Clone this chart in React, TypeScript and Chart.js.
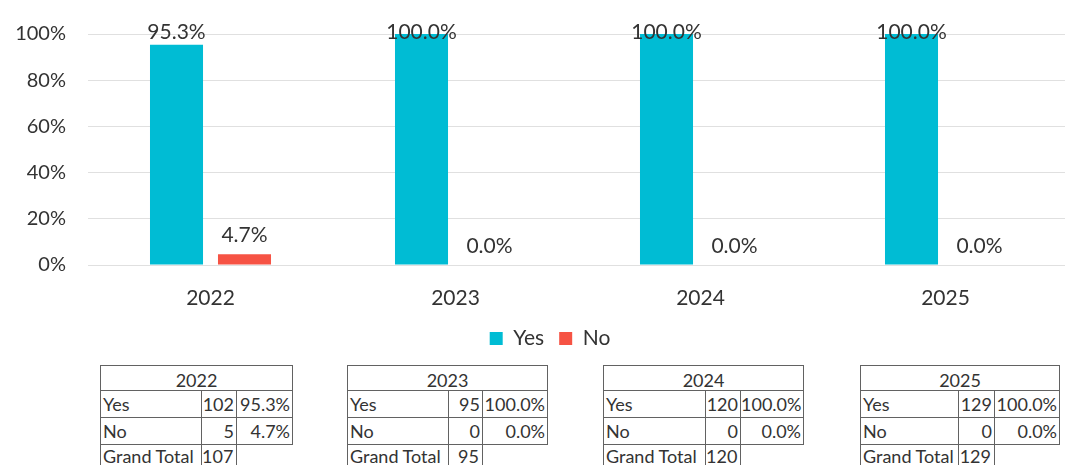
import React, { useEffect, useRef } from 'react';
import { Chart, registerables } from 'chart.js';

Chart.register(...registerables);

// ---- data ----
const categories = ['2022', '2023', '2024', '2025'];
const seriesNames = ['Yes', 'No'];
const yesPercent = [95.3, 100.0, 100.0, 100.0];
const noPercent = [4.7, 0.0, 0.0, 0.0];
const yTicks = [0, 20, 40, 60, 80, 100];
const yesCounts = [102, 95, 120, 129];
const noCounts = [5, 0, 0, 0];
const grandTotals = [107, 95, 120, 129];
const totalLabel = 'Grand Total';

// ---- styles / layout ----
const YES_COLOR = '#00BCD4';
const NO_COLOR = '#F65344';
const TEXT = '#333333';
const FONT = 'Lato, "Open Sans", sans-serif';
const tableLefts = [100, 347, 603, 860];
const tableCols = [
  [101, 35, 56],
  [101, 34, 65],
  [102, 35, 63],
  [98, 36, 65],
];

const labelPlugin = {
  id: 'barValueLabels',
  afterDatasetsDraw(chart: any) {
    const ctx = chart.ctx;
    const top = chart.chartArea.top;
    ctx.save();
    ctx.font = `21px ${FONT}`;
    ctx.fillStyle = TEXT;
    ctx.textAlign = 'center';
    ctx.textBaseline = 'alphabetic';
    chart.data.datasets.forEach((ds: any, di: number) => {
      const meta = chart.getDatasetMeta(di);
      meta.data.forEach((bar: any, i: number) => {
        const v = ds.data[i] as number;
        const y = Math.max(bar.y - 12, top + 5);
        ctx.fillText(v.toFixed(1) + '%', bar.x, y);
      });
    });
    ctx.restore();
  },
};

function StatTable(props: { idx: number }) {
  const i = props.idx;
  const w = tableCols[i];
  const border = '1px solid #626262';
  const cell: React.CSSProperties = { border, padding: '0 2px', whiteSpace: 'nowrap', overflow: 'hidden' };
  const num: React.CSSProperties = { ...cell, textAlign: 'right', padding: '0 2px 0 0' };
  const rows = [
    [seriesNames[0], String(yesCounts[i]), yesPercent[i].toFixed(1) + '%'],
    [seriesNames[1], String(noCounts[i]), noPercent[i].toFixed(1) + '%'],
  ];
  return (
    <table
      style={{
        position: 'absolute',
        left: tableLefts[i],
        top: 365,
        borderCollapse: 'collapse',
        tableLayout: 'fixed',
        width: w[0] + w[1] + w[2],
        fontFamily: FONT,
        fontSize: 18,
        color: TEXT,
        lineHeight: 1,
      }}
    >
      <colgroup>
        <col style={{ width: w[0] }} />
        <col style={{ width: w[1] }} />
        <col style={{ width: w[2] }} />
      </colgroup>
      <tbody>
        <tr style={{ height: 25 }}>
          <td colSpan={3} style={{ ...cell, textAlign: 'center', paddingTop: 3 }}>
            {categories[i]}
          </td>
        </tr>
        {rows.map((r, k) => (
          <tr key={k} style={{ height: 27 }}>
            <td style={{ ...cell, textAlign: 'left' }}>{r[0]}</td>
            <td style={num}>{r[1]}</td>
            <td style={num}>{r[2]}</td>
          </tr>
        ))}
        <tr style={{ height: 27 }}>
          <td style={{ ...cell, textAlign: 'left', verticalAlign: 'top', paddingTop: 2 }}>{totalLabel}</td>
          <td style={{ ...num, verticalAlign: 'top', paddingTop: 2, paddingRight: 3 }}>{grandTotals[i]}</td>
          <td style={{ border: 'none' }}></td>
        </tr>
      </tbody>
    </table>
  );
}

export default function App() {
  const canvasRef = useRef<HTMLCanvasElement | null>(null);

  useEffect(() => {
    if (!canvasRef.current) return;
    const chart = new Chart(canvasRef.current, {
      type: 'bar',
      data: {
        labels: categories,
        datasets: [
          {
            label: seriesNames[0],
            data: yesPercent,
            backgroundColor: YES_COLOR,
            categoryPercentage: 0.555,
            barPercentage: 0.78,
          },
          {
            label: seriesNames[1],
            data: noPercent,
            backgroundColor: NO_COLOR,
            categoryPercentage: 0.555,
            barPercentage: 0.78,
          },
        ],
      },
      options: {
        animation: false,
        responsive: false,
        maintainAspectRatio: false,
        layout: { padding: { top: 26, left: 0, right: 0, bottom: 0 } },
        scales: {
          x: {
            grid: { display: false },
            border: { display: false },
            ticks: { font: { family: FONT, size: 21 }, color: TEXT, padding: 13 },
            afterFit: (s: any) => {
              s.height = 48;
            },
          },
          y: {
            min: 0,
            max: 100,
            afterBuildTicks: (s: any) => {
              s.ticks = yTicks.map((v) => ({ value: v }));
            },
            ticks: {
              font: { family: FONT, size: 20 },
              color: TEXT,
              padding: 22,
              callback: (v: any) => v + '%',
            },
            grid: { color: '#e0e0e0', lineWidth: 1, drawTicks: false },
            border: { display: false },
            afterFit: (s: any) => {
              s.width = 88;
            },
          },
          spacer: {
            position: 'right',
            display: true,
            min: 0,
            max: 100,
            grid: { display: false, drawTicks: false },
            border: { display: false },
            ticks: { display: false },
            afterFit: (s: any) => {
              s.width = 32;
            },
          },
        },
        plugins: {
          legend: {
            position: 'bottom',
            labels: {
              boxWidth: 13,
              boxHeight: 13,
              padding: 15,
              font: { family: FONT, size: 21 },
              color: TEXT,
            },
          },
          tooltip: { enabled: false },
        },
      },
      plugins: [labelPlugin],
    });
    return () => chart.destroy();
  }, []);

  return (
    <div
      style={{
        position: 'fixed',
        left: 0,
        top: 0,
        width: 1065,
        height: 465,
        overflow: 'hidden',
        background: '#ffffff',
      }}
    >
      <canvas
        ref={canvasRef}
        width={1100}
        height={359}
        style={{ position: 'absolute', left: 0, top: 0, width: 1100, height: 359 }}
      />
      {categories.map((_, i) => (
        <StatTable key={i} idx={i} />
      ))}
    </div>
  );
}
